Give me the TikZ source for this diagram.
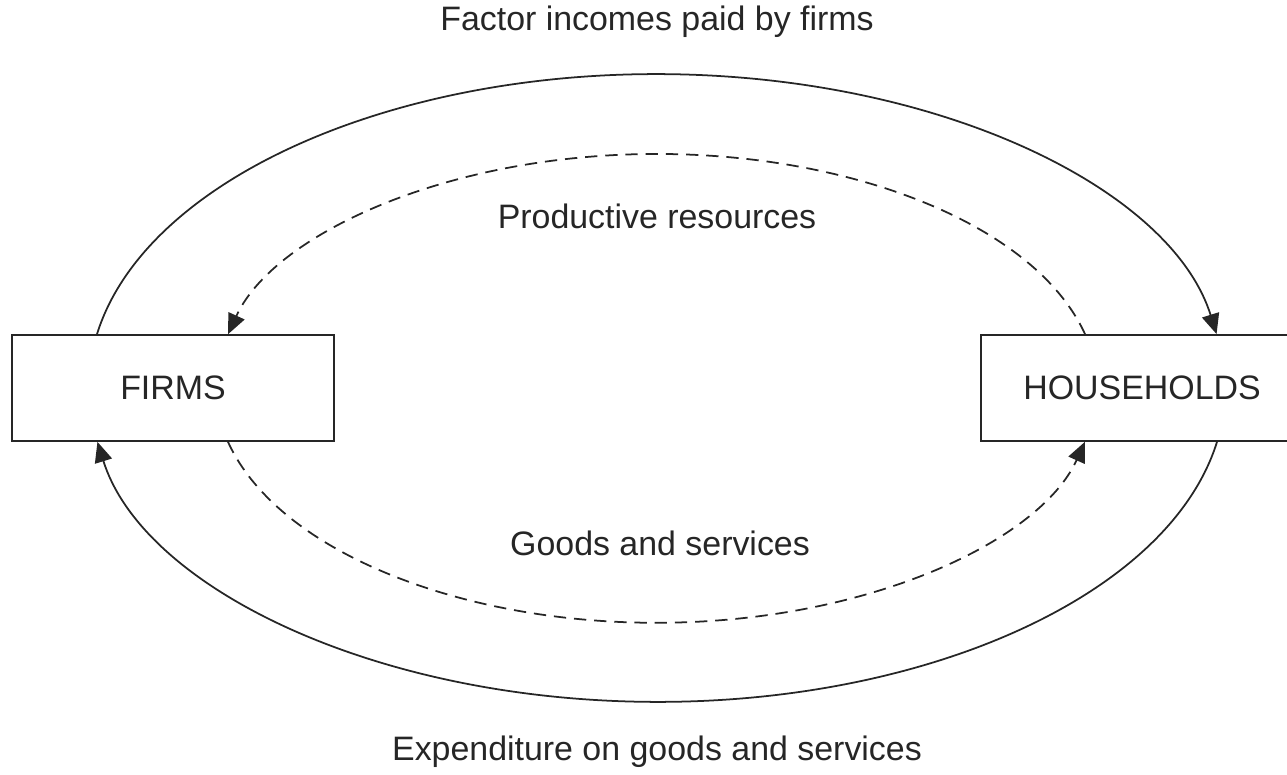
\documentclass[tikz,border=0pt]{standalone}
\usepackage{fontspec}
\setmainfont{Liberation Sans}
\usepackage{tikz}
\usetikzlibrary{arrows.meta,calc}

\tikzset{
    sector/.style={draw, line width=1pt, minimum width=6.44cm, minimum height=2.12cm, inner sep=0pt},
    flow/.style={line width=1pt, -{Triangle[length=11.5pt,width=10pt]}},
    realflow/.style={flow, dash pattern=on 7pt off 4.5pt}
}

\begin{document}
\begin{tikzpicture}[x=0.02cm, y=0.02cm, font=\fontsize{19.3}{23}\selectfont, color=black!85]
        \useasboundingbox (0,0) rectangle (1287,774);
        \node[sector] (firms) at (173,386) {FIRMS};
        \node[sector] (households) at (1142,386) {HOUSEHOLDS};
        \coordinate (fout) at ($(firms.north)+(-76,0)$); % outer, top
        \coordinate (fin) at ($(firms.south)+(55,0)$); % inner, bottom
        \coordinate (hout) at ($(households.south)+(75,0)$); % outer, bottom
        \coordinate (hin) at ($(households.north)+(-57,0)$); % inner, top
        \draw[flow] (fout) arc[start angle=170.25, end angle=9.75, x radius=568, y radius=313]; % money to households
        \draw[flow] (hout) arc[start angle=-9.75, end angle=-170.25, x radius=568, y radius=313]; % money to firms
        \draw[realflow] (hin) arc[start angle=13.7, end angle=166.3, x radius=441, y radius=236]; % resources
        \draw[realflow] (fin) arc[start angle=193.7, end angle=346.3, x radius=441, y radius=237]; % goods
        \node (income) at (657,752) {Factor incomes paid by firms};
        \node (resources) at (657,558) {Productive resources};
        \node (goods) at (660,231) {Goods and services};
        \node (spending) at (657,22) {Expenditure on goods and services};
    \end{tikzpicture}
\end{document}
